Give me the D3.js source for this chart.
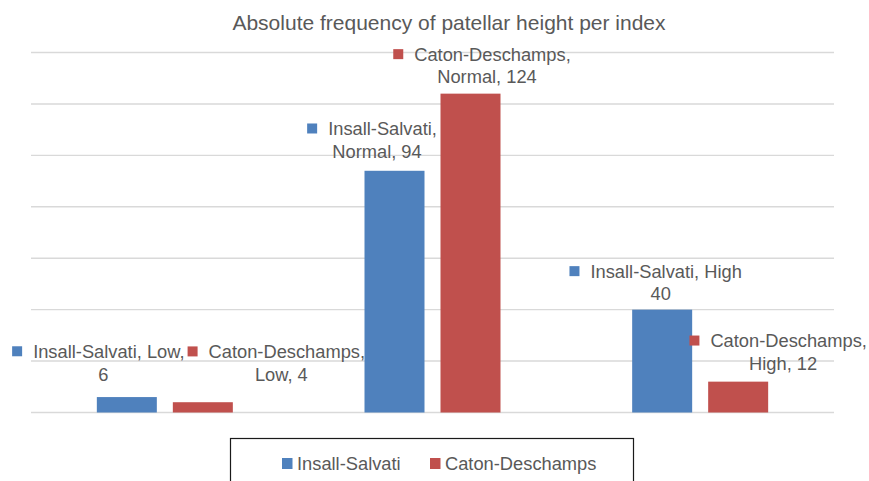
<!DOCTYPE html>
<html><head><meta charset="utf-8">
<script src="https://cdn.jsdelivr.net/npm/d3@7"></script>
<style>html,body{margin:0;padding:0;background:#fff;}svg{display:block;font-family:"Liberation Sans",Arial,sans-serif;}</style>
</head><body>
<svg id="chart" width="869" height="481"></svg>
<script>
const categories = ["Low", "Normal", "High"];
const seriesNames = ["Insall-Salvati", "Caton-Deschamps"];
const insallSalvati = [6, 94, 40];
const catonDeschamps = [4, 124, 12];
const yTicks = [0, 20, 40, 60, 80, 100, 120, 140];
const seriesColors = ["#4F81BD", "#C0504D"];
const title = "Absolute frequency of patellar height per index";

// label layout: [dx of block centre from bar centre, dy of 2nd line centre from bar top, parts on line 1, trailing comma]
const labelLayout = [
  [[-28.5, -23, 2, true], [-22.5, -19.5, 1, true], [-6.5, -15.7, 2, false]],
  [[73.5, -28, 1, true], [11.5, -16.7, 1, true], [40, -18.3, 1, true]]
];

const svg = d3.select("#chart");
const W = 869, H = 481;
const plot = {left: 31, right: 834, top: 52.5, bottom: 412.5};
const textCol = "#595959";
const fs = 18.3;

const x0 = d3.scaleBand().domain(categories).range([plot.left, plot.right]);
const groupW = 136;
const x1 = d3.scaleBand().domain(seriesNames).range([0, groupW]).paddingInner(16 / 76);
const y = d3.scaleLinear().domain([0, 140]).range([plot.bottom, plot.top]);

// gridlines
svg.append("g").selectAll("line").data(yTicks).join("line")
  .attr("x1", plot.left).attr("x2", plot.right)
  .attr("y1", d => y(d)).attr("y2", d => y(d))
  .attr("stroke", "#D9D9D9").attr("stroke-width", 1.4);

// title
svg.append("text").attr("x", 449).attr("y", 29.5).attr("text-anchor", "middle")
  .attr("fill", textCol).attr("font-size", 21).text(title);

const seriesData = [insallSalvati, catonDeschamps];
const rows = [];
seriesNames.forEach((s, si) => categories.forEach((c, ci) => rows.push({s, si, c, ci, v: seriesData[si][ci]})));

const barX = d => x0(d.c) + (x0.bandwidth() - groupW) / 2 + x1(d.s);

svg.append("g").selectAll("rect").data(rows).join("rect")
  .attr("x", barX).attr("width", x1.bandwidth())
  .attr("y", d => y(d.v)).attr("height", d => y(0) - y(d.v))
  .attr("fill", d => seriesColors[d.si]);

// data labels
const lg = svg.append("g").attr("font-size", fs).attr("fill", textCol);
rows.forEach(d => {
  const [dx, dy, k, comma] = labelLayout[d.si][d.ci];
  const parts = [d.s, d.c, String(d.v)];
  const l1 = parts.slice(0, k).join(", ") + (comma ? "," : "");
  const l2 = parts.slice(k).join(", ");
  const cx = barX(d) + x1.bandwidth() / 2 + dx;
  const c2 = y(d.v) + dy;
  const c1 = c2 - 22.8;
  const t1 = lg.append("text").attr("y", c1 + 6.5).text(l1);
  const w = t1.node().getComputedTextLength();
  const blockW = 10 + 11 + w;
  const left = cx - blockW / 2;
  lg.append("rect").attr("x", left).attr("y", c1 - 5).attr("width", 10).attr("height", 10)
    .attr("fill", seriesColors[d.si]);
  t1.attr("x", left + 21);
  lg.append("text").attr("x", cx + 5).attr("y", c2 + 6.5).attr("text-anchor", "middle").text(l2);
});

// legend
const leg = svg.append("g");
leg.append("rect").attr("x", 230.5).attr("y", 438.5).attr("width", 403).attr("height", 60)
  .attr("fill", "none").attr("stroke", "#1a1a1a").attr("stroke-width", 1.2);
const legX = [282, 430];
seriesNames.forEach((s, i) => {
  leg.append("rect").attr("x", legX[i]).attr("y", 458).attr("width", 10.5).attr("height", 11)
    .attr("fill", seriesColors[i]);
  leg.append("text").attr("x", legX[i] + 15).attr("y", 470).attr("font-size", fs)
    .attr("fill", textCol).text(s);
});
</script>
</body></html>
